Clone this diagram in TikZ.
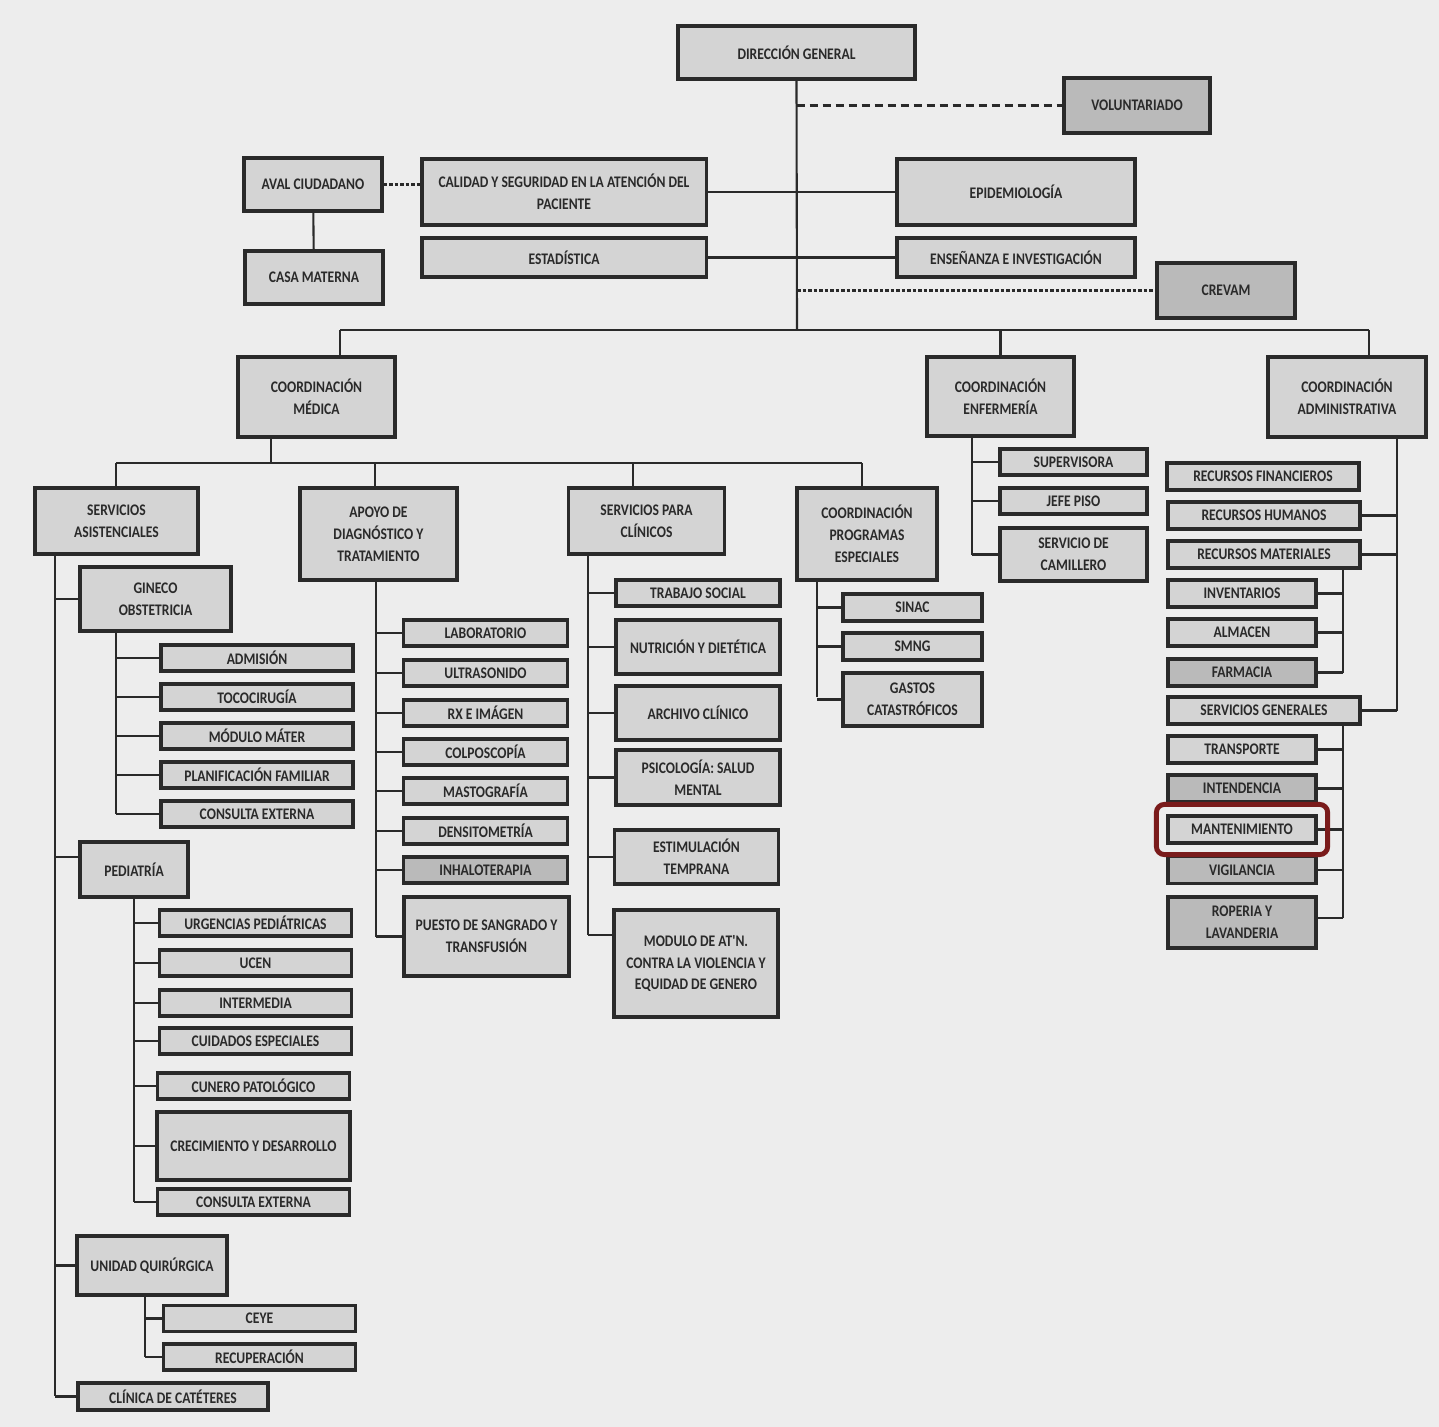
\documentclass[tikz,border=0pt]{standalone}
\usepackage{fontspec}
\newfontfamily\carlito{Carlito}[FakeStretch=0.84]
\usepackage{tikz}
\usetikzlibrary{positioning}
\definecolor{paper}{HTML}{EDEDED}
\definecolor{boxgray}{HTML}{D4D4D4}
\definecolor{boxdark}{HTML}{BABABA}
\definecolor{ink}{HTML}{2A2A2A}
\definecolor{marca}{HTML}{7A1B1B}
\newcommand\boxfont{\carlito\bfseries\fontsize{4.6pt}{6.2pt}\selectfont}

\begin{document}
\begin{tikzpicture}[x=0.01cm, y=-0.01cm,
    unit/.style={draw=ink, line width=0.9pt, fill=boxgray, text=ink,
      inner sep=0pt, align=center, font=\boxfont},
    dark/.style={unit, fill=boxdark},
    sub/.style={unit, minimum width=1.92cm, minimum height=0.26cm},
    lab/.style={unit, minimum width=1.64cm, minimum height=0.26cm},
    adm/.style={unit, minimum width=1.48cm, minimum height=0.27cm},
    admw/.style={unit, minimum width=1.92cm, minimum height=0.27cm},
    link/.style={draw=ink, line width=0.6pt},
    dashlink/.style={link, line width=0.7pt, dash pattern=on 0.08cm off 0.05cm},
    finelink/.style={link, line width=0.7pt, dash pattern=on 0.035cm off 0.02cm},
    hilite/.style={draw=marca, line width=1.4pt, rounded corners=0.08cm}]
  \fill[paper] (0,0) rectangle (1439,1427);
  \useasboundingbox (0,0) rectangle (1439,1427);

  % direccion y staff
  \node[unit, minimum width=2.37cm, minimum height=0.53cm] (dg) at (796.5,52.5) {DIRECCIÓN GENERAL};
  \node[dark, minimum width=1.46cm, minimum height=0.55cm] (vol) at (1137,105.5) {VOLUNTARIADO};
  \node[unit, minimum width=1.38cm, minimum height=0.53cm] (aval) at (313,184.5) {AVAL CIUDADANO};
  \node[unit, minimum width=1.38cm, minimum height=0.53cm] (casa) at (314,277.5) {CASA MATERNA};
  \node[unit, minimum width=2.84cm, minimum height=0.66cm] (cal) at (564,192) {CALIDAD Y SEGURIDAD EN LA ATENCIÓN DEL\\PACIENTE};
  \node[unit, minimum width=2.84cm, minimum height=0.39cm] (est) at (564,257.5) {ESTADÍSTICA};
  \node[unit, minimum width=2.38cm, minimum height=0.66cm] (epi) at (1016,192) {EPIDEMIOLOGÍA};
  \node[unit, minimum width=2.38cm, minimum height=0.39cm] (ens) at (1016,257.5) {ENSEÑANZA E INVESTIGACIÓN};
  \node[dark, minimum width=1.38cm, minimum height=0.55cm] (crev) at (1226,290.5) {CREVAM};

  \coordinate (tb) at (797,330);
  \draw[link] (dg.south) -- (tb);
  \draw[dashlink] (dg.south |- vol.west) -- (vol.west);
  \draw[link] (cal.east) -- (epi.west);
  \draw[link] (est.east) -- (ens.west);
  \draw[finelink] (aval.east) -- (cal.west |- aval.east);
  \draw[link] (aval) -- (casa);
  \draw[finelink] (tb |- crev.west) -- (crev.west);

  % coordinaciones
  \node[unit, minimum width=1.57cm, minimum height=0.80cm] (cmed) at (316.5,397) {COORDINACIÓN\\MÉDICA};
  \node[unit, minimum width=1.47cm, minimum height=0.79cm] (cenf) at (1000.5,396.5) {COORDINACIÓN\\ENFERMERÍA};
  \node[unit, minimum width=1.58cm, minimum height=0.80cm] (cadm) at (1347,397) {COORDINACIÓN\\ADMINISTRATIVA};
  \coordinate (bl) at (340,330);
  \coordinate (br) at (1369,330);
  \draw[link] (bl) -- (br);
  \draw[link] (bl) -- (bl |- cmed.north);
  \draw[link] (br) -- (br |- cadm.north);
  \draw[link] (cenf.north |- bl) -- (cenf.north);

  % coordinacion medica
  \node[unit, minimum width=1.63cm, minimum height=0.66cm] (sasis) at (116.5,521) {SERVICIOS\\ASISTENCIALES};
  \node[unit, minimum width=1.57cm, minimum height=0.92cm] (apoyo) at (378.5,534) {APOYO DE\\DIAGNÓSTICO Y\\TRATAMIENTO};
  \node[unit, minimum width=1.56cm, minimum height=0.66cm] (spc) at (646.5,521) {SERVICIOS PARA\\CLÍNICOS};
  \node[unit, minimum width=1.40cm, minimum height=0.92cm] (cpe) at (867,534) {COORDINACIÓN\\PROGRAMAS\\ESPECIALES};
  \coordinate (mb) at (271,463);
  \coordinate (d1) at (116,463);
  \coordinate (d2) at (375,463);
  \coordinate (d3) at (633,463);
  \coordinate (d4) at (862,463);
  \draw[link] (cmed.south -| mb) -- (mb);
  \draw[link] (d1) -- (d4);
  \foreach \d/\n in {d1/sasis, d2/apoyo, d3/spc, d4/cpe}
    \draw[link] (\d) -- (\d |- \n.north);

  % servicios asistenciales
  \node[unit, minimum width=1.51cm, minimum height=0.64cm] (gin) at (155.5,599) {GINECO\\OBSTETRICIA};
  \node[sub] (adm1) at (257,658) {ADMISIÓN};
  \node[sub] (toco) at (257,697) {TOCOCIRUGÍA};
  \node[sub] (mmat) at (257,736) {MÓDULO MÁTER};
  \node[sub] (plan) at (257,775) {PLANIFICACIÓN FAMILIAR};
  \node[sub] (cext1) at (257,814) {CONSULTA EXTERNA};
  \node[unit, minimum width=1.08cm, minimum height=0.55cm] (ped) at (134,869.5) {PEDIATRÍA};
  \node[sub] (urg) at (255.5,923) {URGENCIAS PEDIÁTRICAS};
  \node[sub] (ucen) at (255.5,963) {UCEN};
  \node[sub] (inter) at (255.5,1003) {INTERMEDIA};
  \node[sub] (cuid) at (255.5,1041) {CUIDADOS ESPECIALES};
  \node[sub] (cun) at (253.5,1086) {CUNERO PATOLÓGICO};
  \node[unit, minimum width=1.93cm, minimum height=0.68cm] (crec) at (253.5,1146) {CRECIMIENTO Y DESARROLLO};
  \node[sub] (cext2) at (253.5,1202) {CONSULTA EXTERNA};
  \node[unit, minimum width=1.50cm, minimum height=0.59cm] (uq) at (152,1265.5) {UNIDAD QUIRÚRGICA};
  \node[sub] (ceye) at (259.5,1318.5) {CEYE};
  \node[sub] (recu) at (259.5,1357) {RECUPERACIÓN};
  \node[unit, minimum width=1.90cm, minimum height=0.27cm] (cat) at (173,1396.5) {CLÍNICA DE CATÉTERES};

  \coordinate (st) at (55,1396);
  \draw[link] (sasis.south -| st) -- (st);
  \foreach \n in {gin, uq, cat}
    \draw[link] (st |- \n.west) -- (\n.west);
  \draw[link] (st |- 0,857) -- (ped.west |- 0,857);
  \coordinate (gt) at (116,814);
  \draw[link] (gin.south -| gt) -- (gt);
  \foreach \n in {adm1, toco, mmat, plan, cext1}
    \draw[link] (gt |- \n.west) -- (\n.west);
  \coordinate (pt) at (134,1202);
  \draw[link] (ped.south -| pt) -- (pt);
  \foreach \n in {urg, ucen, inter, cuid, cun, crec, cext2}
    \draw[link] (pt |- \n.west) -- (\n.west);
  \coordinate (qt) at (145,1357);
  \draw[link] (uq.south -| qt) -- (qt);
  \foreach \n in {ceye, recu}
    \draw[link] (qt |- \n.west) -- (\n.west);

  % apoyo de diagnostico
  \node[lab] (labo) at (485.5,633) {LABORATORIO};
  \node[lab] (ultra) at (485.5,673) {ULTRASONIDO};
  \node[lab] (rx) at (485.5,713) {RX E IMÁGEN};
  \node[lab] (colpo) at (485.5,752) {COLPOSCOPÍA};
  \node[lab] (masto) at (485.5,791) {MASTOGRAFÍA};
  \node[lab] (dens) at (485.5,831) {DENSITOMETRÍA};
  \node[lab, fill=boxdark] (inha) at (485.5,870) {INHALOTERAPIA};
  \node[unit, minimum width=1.65cm, minimum height=0.79cm] (pue) at (486.5,936.5) {PUESTO DE SANGRADO Y\\TRANSFUSIÓN};
  \coordinate (at) at (376,936.5);
  \draw[link] (apoyo.south -| at) -- (at);
  \foreach \n in {labo, ultra, rx, colpo, masto, dens, inha, pue}
    \draw[link] (at |- \n.west) -- (\n.west);

  % servicios para clinicos
  \node[lab] (tsoc) at (698,593) {TRABAJO SOCIAL};
  \node[lab, minimum height=0.54cm] (nut) at (698,647) {NUTRICIÓN Y DIETÉTICA};
  \node[lab, minimum height=0.54cm] (arch) at (698,713) {ARCHIVO CLÍNICO};
  \node[lab, minimum height=0.55cm] (psi) at (698,777.5) {PSICOLOGÍA: SALUD\\MENTAL};
  \node[lab, minimum height=0.54cm] (estim) at (696.5,857) {ESTIMULACIÓN\\TEMPRANA};
  \node[lab, minimum height=1.07cm] (modu) at (696,963.5) {MODULO DE AT'N.\\CONTRA LA VIOLENCIA Y\\EQUIDAD DE GENERO};
  \coordinate (ct) at (588,935);
  \draw[link] (spc.south -| ct) -- (ct);
  \foreach \n in {tsoc, nut, arch, psi, estim}
    \draw[link] (ct |- \n.west) -- (\n.west);
  \draw[link] (ct) -- (ct -| modu.west);

  % programas especiales
  \node[unit, minimum width=1.39cm, minimum height=0.27cm] (sinac) at (912.5,607.5) {SINAC};
  \node[unit, minimum width=1.39cm, minimum height=0.27cm] (smng) at (912.5,646.5) {SMNG};
  \node[unit, minimum width=1.39cm, minimum height=0.53cm] (gast) at (912.5,699.5) {GASTOS\\CATASTRÓFICOS};
  \coordinate (et) at (817,697);
  \draw[link] (cpe.south -| et) -- (et);
  \foreach \n in {sinac, smng, gast}
    \draw[link] (et |- \n.west) -- (\n.west);

  % enfermeria
  \node[unit, minimum width=1.47cm, minimum height=0.26cm] (supv) at (1073.5,462) {SUPERVISORA};
  \node[unit, minimum width=1.47cm, minimum height=0.26cm] (jefe) at (1073.5,501) {JEFE PISO};
  \node[unit, minimum width=1.47cm, minimum height=0.53cm] (cami) at (1073.5,554.5) {SERVICIO DE\\CAMILLERO};
  \coordinate (nt) at (972,554.5);
  \draw[link] (cenf.south -| nt) -- (nt);
  \foreach \n in {supv, jefe, cami}
    \draw[link] (nt |- \n.west) -- (\n.west);

  % administrativa
  \node[admw] (rfin) at (1263,476.5) {RECURSOS FINANCIEROS};
  \node[admw] (rhum) at (1264,515.5) {RECURSOS HUMANOS};
  \node[admw] (rmat) at (1264,554.5) {RECURSOS MATERIALES};
  \node[adm] (inv) at (1242,593.5) {INVENTARIOS};
  \node[adm] (alm) at (1242,632.5) {ALMACEN};
  \node[adm, fill=boxdark] (farm) at (1242,672.5) {FARMACIA};
  \node[admw] (sgen) at (1264,710.5) {SERVICIOS GENERALES};
  \node[adm] (trans) at (1242,749.5) {TRANSPORTE};
  \node[adm, fill=boxdark] (inten) at (1242,788.5) {INTENDENCIA};
  \node[adm] (mant) at (1242,829.5) {MANTENIMIENTO};
  \node[adm, fill=boxdark] (vig) at (1242,870) {VIGILANCIA};
  \node[adm, fill=boxdark, minimum height=0.51cm] (rop) at (1242,922.5) {ROPERIA Y\\LAVANDERIA};
  \coordinate (rt) at (1397,710.5);
  \draw[link] (cadm.south -| rt) -- (rt);
  \foreach \n in {rhum, rmat, sgen}
    \draw[link] (\n.east) -- (rt |- \n.east);
  \coordinate (mt) at (1343,672.5);
  \draw[link] (rmat.south -| mt) -- (mt);
  \foreach \n in {inv, alm, farm}
    \draw[link] (\n.east) -- (mt |- \n.east);
  \coordinate (gt2) at (1343,918);
  \draw[link] (sgen.south -| gt2) -- (gt2);
  \foreach \n in {trans, inten, mant, vig}
    \draw[link] (\n.east) -- (gt2 |- \n.east);
  \draw[link] (gt2) -- (gt2 -| rop.east);

  \draw[hilite] ([shift={(-10,10)}]mant.south west) rectangle ([shift={(10,-10)}]mant.north east);
\end{tikzpicture}
\end{document}
